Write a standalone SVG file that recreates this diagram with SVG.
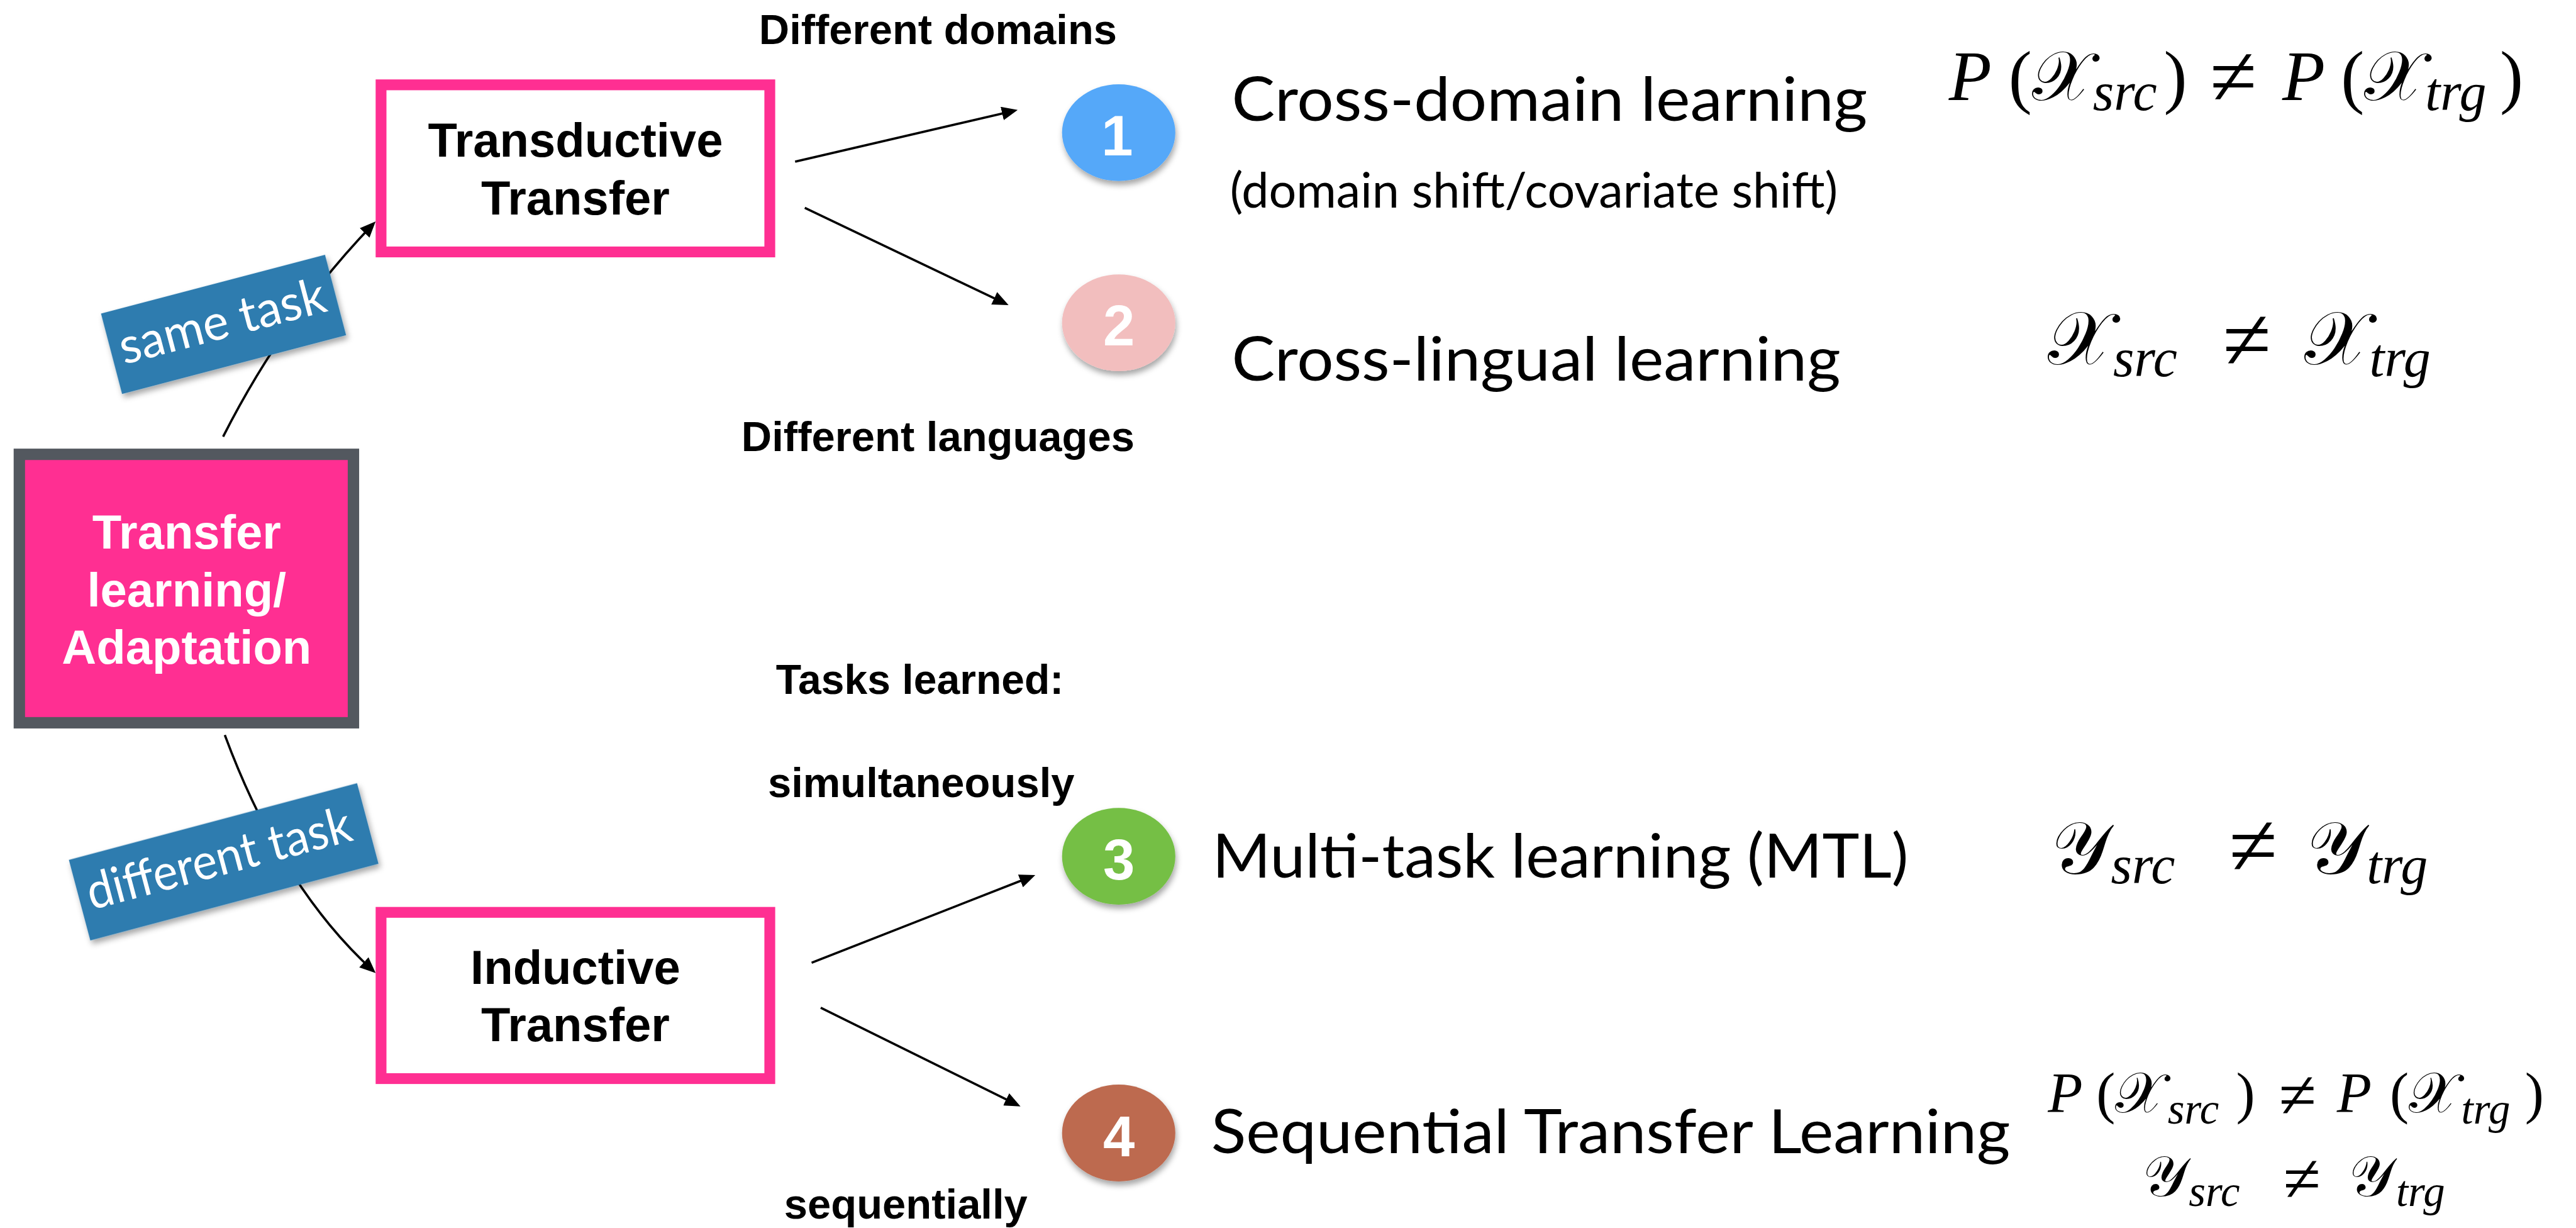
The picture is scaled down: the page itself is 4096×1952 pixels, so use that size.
<svg xmlns="http://www.w3.org/2000/svg" width="4096" height="1952" viewBox="0 0 4096 1952">
<defs>
<style>
.hb{font-family:"Liberation Sans",Arial,sans-serif;font-weight:700;fill:#000}
.wt{fill:#fff}
.av{font-family:Lato,"Liberation Sans",sans-serif;font-weight:400;fill:#000}
.lbl{font-family:Lato,"Liberation Sans",sans-serif;font-weight:400;fill:#fff}
.m{font-family:"Liberation Serif","Times New Roman","DejaVu Serif",serif;fill:#000}
.i{font-style:italic}
.conn{fill:none;stroke:#000;stroke-width:4}
.tbox{fill:#fff;stroke:#FF2F92;stroke-width:19}
.num{font-family:"Liberation Sans",Arial,sans-serif;font-weight:700;fill:#fff;font-size:100px;text-anchor:middle}
.tag{fill:#2F7BAF}
</style>
<marker id="ah" markerUnits="userSpaceOnUse" markerWidth="28" markerHeight="24" viewBox="0 0 28 24" refX="22" refY="12" orient="auto"><path d="M0,0 L28,12 L0,24 z" fill="#000"/></marker>
<filter id="sh" x="-20%" y="-30%" width="140%" height="170%"><feDropShadow dx="2" dy="7" stdDeviation="5" flood-color="#000" flood-opacity="0.35"/></filter>
</defs>
<rect width="4096" height="1952" fill="#fff"/>
<g transform="scale(0.905)">

<g id="connectors">
<path class="conn" d="M392,767 Q499,556 655.8,393.3" marker-end="url(#ah)"/>
<path class="conn" d="M395,1291 Q494,1558 655.6,1705" marker-end="url(#ah)"/>
<path class="conn" d="M1397,284 L1782.2,194.4" marker-end="url(#ah)"/>
<path class="conn" d="M1414,365 L1766.6,533.4" marker-end="url(#ah)"/>
<path class="conn" d="M1426,1691 L1813.4,1539.2" marker-end="url(#ah)"/>
<path class="conn" d="M1442,1770 L1787.6,1940.8" marker-end="url(#ah)"/>
</g>

<g id="label-same-task" transform="translate(392.75,569.75) rotate(-14.7)">
<rect class="tag" x="-203.5" y="-73" width="407" height="146" filter="url(#sh)"/>
<text class="lbl" x="-1" y="24" font-size="88" text-anchor="middle" textLength="372" lengthAdjust="spacingAndGlyphs">same task</text>
</g>
<g id="label-different-task" transform="translate(393,1513.75) rotate(-14.9)">
<rect class="tag" x="-262" y="-73.25" width="524" height="146.5" filter="url(#sh)"/>
<text class="lbl" x="-7" y="22" font-size="88" text-anchor="middle" textLength="478" lengthAdjust="spacingAndGlyphs">different task</text>
</g>

<g id="node-source">
<rect x="34" y="798" width="587" height="471.5" fill="#FF2F92" stroke="#53585F" stroke-width="20"/>
<text class="hb wt" font-size="84" text-anchor="middle"><tspan x="328" y="963">Transfer</tspan><tspan x="328" y="1065">learning/</tspan><tspan x="328" y="1166">Adaptation</tspan></text>
</g>

<g id="node-transductive">
<rect class="tbox" x="669.5" y="149" width="683" height="293.5"/>
<text class="hb" font-size="84" text-anchor="middle"><tspan x="1011" y="275.5">Transductive</tspan><tspan x="1011" y="377">Transfer</tspan></text>
</g>

<g id="node-inductive">
<rect class="tbox" x="669.5" y="1602.5" width="683" height="292"/>
<text class="hb" font-size="84" text-anchor="middle"><tspan x="1011" y="1728">Inductive</tspan><tspan x="1011" y="1829">Transfer</tspan></text>
</g>

<g id="headings">
<text class="hb" font-size="74" text-anchor="middle" x="1648" y="77">Different domains</text>
<text class="hb" font-size="74" text-anchor="middle" x="1648" y="792">Different languages</text>
<text class="hb" font-size="73" text-anchor="middle" x="1616" y="1219">Tasks learned:</text>
<text class="hb" font-size="74" text-anchor="middle" x="1618.5" y="1400">simultaneously</text>
<text class="hb" font-size="74" text-anchor="middle" x="1591.5" y="2140">sequentially</text>
</g>

<g id="node-1">
<ellipse cx="1965.5" cy="233" rx="99.5" ry="85" fill="#55A8F9" filter="url(#sh)"/>
<text class="num" x="1963" y="273">1</text>
<text class="av" x="2164" y="212" font-size="108" textLength="1117" lengthAdjust="spacingAndGlyphs">Cross-domain learning</text>
<text class="av" x="2161" y="365" font-size="85" textLength="1068" lengthAdjust="spacingAndGlyphs">(domain shift/covariate shift)</text>
</g>
<g id="node-2">
<ellipse cx="1965.5" cy="567" rx="99.5" ry="85" fill="#F2BEBE" filter="url(#sh)"/>
<text class="num" x="1966" y="607">2</text>
<text class="av" x="2164" y="668" font-size="108" textLength="1070" lengthAdjust="spacingAndGlyphs">Cross-lingual learning</text>
</g>
<g id="node-3">
<ellipse cx="1965.5" cy="1504" rx="99.5" ry="85" fill="#74BF45" filter="url(#sh)"/>
<text class="num" x="1966" y="1545">3</text>
<text class="av" x="2130" y="1541" font-size="108" textLength="1223" lengthAdjust="spacingAndGlyphs">Multi-task learning (MTL)</text>
</g>
<g id="node-4">
<ellipse cx="1965.5" cy="1990" rx="99.5" ry="85" fill="#BD6B50" filter="url(#sh)"/>
<text class="num" x="1966" y="2031">4</text>
<text class="av" x="2128" y="2025" font-size="108" textLength="1404" lengthAdjust="spacingAndGlyphs">Sequential Transfer Learning</text>
</g>

<g id="formula-1">
<text class="m" font-size="123" x="3424" y="176"><tspan class="i">P</tspan><tspan dx="30">(</tspan><tspan>𝒳</tspan><tspan class="i" dx="2" y="193" font-size="95">src</tspan><tspan dx="12" y="176">)</tspan><tspan dx="40" y="184" font-size="150">≠</tspan><tspan class="i" dx="45" y="176">P</tspan><tspan dx="28">(</tspan><tspan>𝒳</tspan><tspan class="i" dx="2" y="193" font-size="95">trg</tspan><tspan dx="24" y="176">)</tspan></text>
</g>
<g id="formula-2">
<text class="m" font-size="132" x="3598" y="640"><tspan>𝒳</tspan><tspan class="i" dx="2" y="661" font-size="95">src</tspan><tspan dx="80" y="649" font-size="155">≠</tspan><tspan dx="58" y="640">𝒳</tspan><tspan class="i" dx="2" y="661" font-size="95">trg</tspan></text>
</g>
<g id="formula-3">
<text class="m" font-size="130" x="3604" y="1535"><tspan>𝒴</tspan><tspan class="i" dx="2" y="1551" font-size="95">src</tspan><tspan dx="95" y="1537" font-size="155">≠</tspan><tspan dx="52" y="1535">𝒴</tspan><tspan class="i" dx="2" y="1551" font-size="95">trg</tspan></text>
</g>
<g id="formula-4">
<text class="m" font-size="100" x="3598" y="1954"><tspan class="i">P</tspan><tspan dx="24">(</tspan><tspan>𝒳</tspan><tspan class="i" dx="6" y="1973" font-size="76">src</tspan><tspan dx="30" y="1954">)</tspan><tspan dx="42" y="1963" font-size="120">≠</tspan><tspan class="i" dx="36" y="1954">P</tspan><tspan dx="32">(</tspan><tspan>𝒳</tspan><tspan class="i" dx="6" y="1973" font-size="76">trg</tspan><tspan dx="26" y="1954">)</tspan></text>
<text class="m" font-size="100" x="3765" y="2100"><tspan>𝒴</tspan><tspan class="i" dx="2" y="2118" font-size="76">src</tspan><tspan dx="76" y="2110" font-size="120">≠</tspan><tspan dx="50" y="2100">𝒴</tspan><tspan class="i" dx="4" y="2118" font-size="76">trg</tspan></text>
</g>

</g>
</svg>
